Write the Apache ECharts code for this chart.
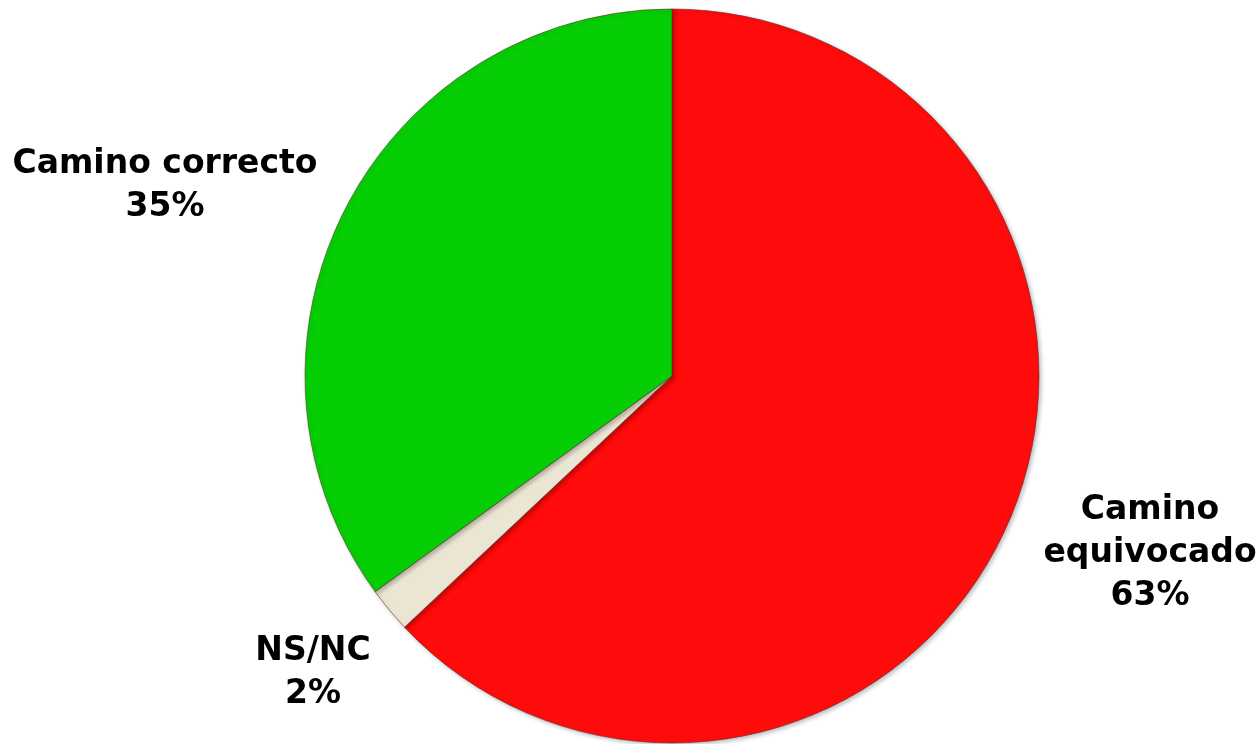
<!DOCTYPE html>
<html><head><meta charset="utf-8">
<script src="https://cdn.jsdelivr.net/npm/echarts@6/dist/echarts.min.js"></script>
<style>html,body{margin:0;padding:0;background:#fff}#c{width:1258px;height:744px}</style>
</head><body><div id="c"></div>
<script>
const categories = ['Camino equivocado', 'NS/NC', 'Camino correcto'];
const values = [63, 2, 35];
const labelLines = [['Camino', 'equivocado'], ['NS/NC'], ['Camino correcto']];
const colors = ['#FF0B0B', '#EBE5D3', '#05CE05'];
const labelPos = [[1150, 553], [313, 673], [165, 186]];

const chart = echarts.init(document.getElementById('c'), null, {renderer: 'canvas'});
chart.setOption({
  animation: false,
  backgroundColor: '#ffffff',
  series: [{
    type: 'pie',
    center: [672, 376],
    radius: 367,
    startAngle: 90,
    clockwise: true,
    data: categories.map((n, i) => ({name: n, value: values[i], itemStyle: {color: colors[i]}})),
    itemStyle: {
      borderColor: 'rgba(90,40,40,0.55)',
      borderWidth: 1,
      shadowColor: 'rgba(0,0,0,0.25)',
      shadowBlur: 4,
      shadowOffsetX: 2,
      shadowOffsetY: 2
    },
    label: {
      show: true,
      position: 'outside',
      formatter: p => labelLines[p.dataIndex].join('\n') + '\n' + p.value + '%',
      fontFamily: '"DejaVu Sans", "Liberation Sans", Arial, sans-serif',
      fontWeight: 'bold',
      fontSize: 33,
      lineHeight: 43,
      color: '#000',
      align: 'center',
      overflow: 'none',
      width: 500
    },
    labelLine: {show: false},
    labelLayout: p => ({
      x: labelPos[p.dataIndex][0],
      y: labelPos[p.dataIndex][1],
      align: 'center',
      verticalAlign: 'middle'
    })
  }]
});
</script></body></html>
